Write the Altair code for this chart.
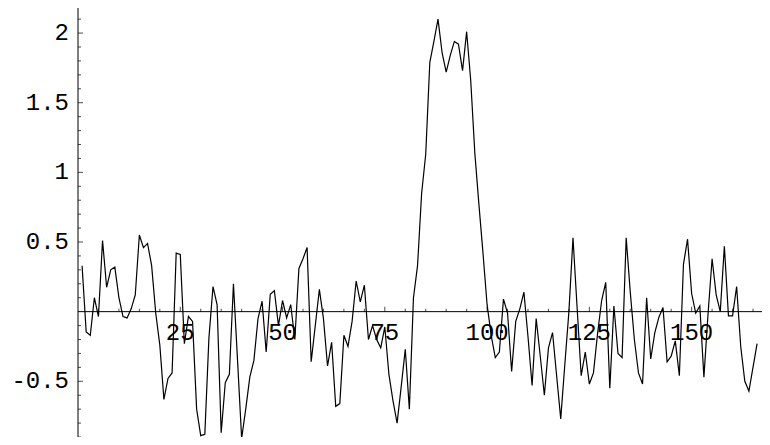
import altair as alt
import pandas as pd

# Series values (index 1..166)
values = [
    0.33, -0.145, -0.17, 0.10, -0.035, 0.51, 0.175, 0.30, 0.32, 0.10,
    -0.035, -0.045, 0.02, 0.12, 0.55, 0.46, 0.49, 0.33, -0.01, -0.24,
    -0.63, -0.48, -0.44, 0.42, 0.41, -0.23, -0.035, -0.07, -0.70, -0.89,
    -0.88, -0.19, 0.18, 0.05, -0.87, -0.51, -0.45, 0.20, -0.35, -0.91,
    -0.70, -0.47, -0.35, -0.05, 0.075, -0.29, 0.125, 0.15, -0.10, 0.08,
    -0.045, 0.05, -0.20, 0.31, 0.38, 0.46, -0.36, -0.10, 0.16, -0.05,
    -0.39, -0.22, -0.68, -0.66, -0.17, -0.25, -0.07, 0.22, 0.07, 0.19,
    -0.20, -0.10, -0.20, -0.26, -0.11, -0.45, -0.64, -0.80, -0.54, -0.27,
    -0.70, 0.10, 0.33, 0.85, 1.13, 1.79, 1.94, 2.10, 1.86, 1.72,
    1.84, 1.94, 1.92, 1.73, 2.01, 1.66, 1.14, 0.77, 0.42, 0.05,
    -0.17, -0.33, -0.29, 0.09, -0.01, -0.43, -0.07, 0.02, 0.14, -0.18,
    -0.53, -0.05, -0.32, -0.60, -0.26, -0.15, -0.46, -0.77, -0.38, 0.00,
    0.53, 0.03, -0.46, -0.29, -0.52, -0.44, -0.16, 0.08, 0.21, -0.55,
    0.04, -0.30, -0.33, 0.53, 0.14, -0.20, -0.44, -0.52, 0.10, -0.34,
    -0.15, -0.04, 0.03, -0.36, -0.32, -0.21, -0.46, 0.34, 0.52, 0.13,
    -0.01, 0.04, -0.47, -0.02, 0.38, 0.12, 0.00, 0.47, -0.03, -0.03,
    0.18, -0.25, -0.50, -0.57, -0.40, -0.23,
]
index = list(range(1, len(values) + 1))

x_major = [25, 50, 75, 100, 125, 150]
x_labels = ["25", "50", "75", "100", "125", "150"]
x_minor = [5, 10, 15, 20, 30, 35, 40, 45, 55, 60, 65, 70, 80, 85, 90, 95,
           105, 110, 115, 120, 130, 135, 140, 145, 155, 160, 165]
y_major = [-0.5, 0.5, 1.0, 1.5, 2.0]
y_labels = ["-0.5", "0.5", "1", "1.5", "2"]
y_minor = [-0.9, -0.8, -0.7, -0.6, -0.4, -0.3, -0.2, -0.1, 0.1, 0.2, 0.3, 0.4,
           0.6, 0.7, 0.8, 0.9, 1.1, 1.2, 1.3, 1.4, 1.6, 1.7, 1.8, 1.9, 2.1]

FONT = "Liberation Mono"
xs = alt.Scale(domain=[0, 167.2], nice=False, zero=False)
ys = alt.Scale(domain=[-0.90, 2.18], nice=False, zero=False)


def X(f="x"):
    return alt.X(f"{f}:Q", scale=xs, axis=None)


def Y(f="y"):
    return alt.Y(f"{f}:Q", scale=ys, axis=None)


line_df = pd.DataFrame({"x": index, "y": values})
zero_df = pd.DataFrame({"x": [0], "y": [0]})
xmaj_df = pd.DataFrame({"x": x_major, "y": [0] * len(x_major), "t": x_labels})
xmin_df = pd.DataFrame({"x": x_minor, "y": [0] * len(x_minor)})
ymaj_df = pd.DataFrame({"x": [0] * len(y_major), "y": y_major, "t": y_labels})
ymin_df = pd.DataFrame({"x": [0] * len(y_minor), "y": y_minor})

line = alt.Chart(line_df).mark_line(color="black", strokeWidth=1.2).encode(x=X(), y=Y())

x_axis = alt.Chart(zero_df).mark_rule(color="black", strokeWidth=1).encode(y=Y())
y_axis = alt.Chart(zero_df).mark_rule(color="black", strokeWidth=1).encode(x=X())

x_ticks_major = alt.Chart(xmaj_df).mark_tick(
    orient="vertical", size=5, thickness=1, yOffset=-2.5, color="black"
).encode(x=X(), y=Y())
x_ticks_minor = alt.Chart(xmin_df).mark_tick(
    orient="vertical", size=3, thickness=1, yOffset=-1.5, color="black"
).encode(x=X(), y=Y())
y_ticks_major = alt.Chart(ymaj_df).mark_tick(
    orient="horizontal", size=5, thickness=1, xOffset=2.5, color="black"
).encode(x=X(), y=Y())
y_ticks_minor = alt.Chart(ymin_df).mark_tick(
    orient="horizontal", size=3, thickness=1, xOffset=1.5, color="black"
).encode(x=X(), y=Y())

x_text = alt.Chart(xmaj_df).mark_text(
    font=FONT, fontSize=24, baseline="top", align="center", dy=9, color="black"
).encode(x=X(), y=Y(), text="t:N")
y_text = alt.Chart(ymaj_df).mark_text(
    font=FONT, fontSize=24, baseline="middle", align="right", dx=-9, color="black"
).encode(x=X(), y=Y(), text="t:N")

chart = alt.layer(
    x_text, y_text, line, x_axis, y_axis,
    x_ticks_major, x_ticks_minor, y_ticks_major, y_ticks_minor,
).properties(
    width=684,
    height=429,
    autosize="none",
    padding={"left": 70, "top": 0, "right": 0, "bottom": 0},
    background="white",
).configure_view(stroke=None)

chart.save("out.html", embed_options={"renderer": "svg", "actions": False})
